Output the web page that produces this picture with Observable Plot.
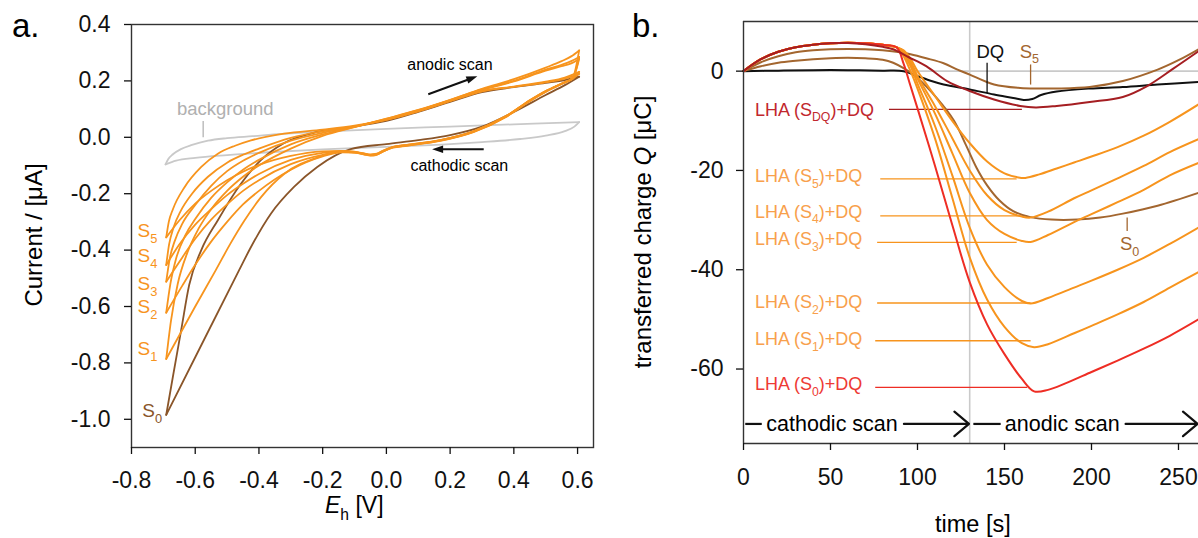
<!DOCTYPE html>
<html><head><meta charset="utf-8">
<script src="https://cdn.jsdelivr.net/npm/d3@7"></script>
<script src="https://cdn.jsdelivr.net/npm/@observablehq/plot@0.6"></script>
<style>
html,body{margin:0;padding:0;background:#fff;}
body{width:1198px;height:538px;overflow:hidden;position:relative;}
#a{position:absolute;left:0;top:0;width:600px;height:538px;}
#b{position:absolute;left:600px;top:0;width:598px;height:538px;}
svg{overflow:visible;}
</style></head><body>
<div id="a"></div><div id="b"></div>
<script>
const FONT = "'Liberation Sans', Arial, Helvetica, sans-serif";
const ORANGE = "#f7941d", BROWN_A = "#8a5529", BROWN_B = "#a3662f", GREY = "#c9c9c9";
const RED = "#ee2d24", DARKRED = "#a51e22", LABEL_ORANGE = "#f8a04c";

// ---------- Panel a: cyclic voltammograms (E [V], I [uA]) ----------
const xTicksA = [-0.8,-0.6,-0.4,-0.2,0,0.2,0.4,0.6];
const yTicksA = [0.4,0.2,0,-0.2,-0.4,-0.6,-0.8,-1.0];

const bgAnodic = [[-0.693,-0.096],[-0.685,-0.078],[-0.67,-0.06],[-0.645,-0.042],[-0.61,-0.027],[-0.56,-0.012],[-0.5,-0.003],[-0.42,0.004],[-0.33,0.012],[-0.2,0.02],[0,0.03],[0.2,0.038],[0.4,0.046],[0.605,0.054]];
const bgCathodic = [[-0.693,-0.096],[-0.66,-0.083],[-0.6,-0.073],[-0.5,-0.063],[-0.37,-0.053],[-0.2,-0.043],[0,-0.034],[0.2,-0.024],[0.3,-0.017],[0.42,-0.006],[0.5,0.006],[0.56,0.022],[0.59,0.038],[0.605,0.054]];

const s0Anodic = [[-0.691,-0.984],[-0.669,-0.842],[-0.644,-0.683],[-0.619,-0.524],[-0.581,-0.4],[-0.529,-0.294],[-0.456,-0.164],[-0.394,-0.081],[-0.322,-0.021],[-0.217,0.019],[-0.113,0.036],[0,0.058],[0.1,0.09],[0.2,0.126],[0.3,0.16],[0.4,0.178],[0.5,0.193],[0.56,0.203],[0.605,0.215]];
const s0Cathodic = [[-0.691,-0.984],[-0.6,-0.78],[-0.463,-0.473],[-0.425,-0.389],[-0.362,-0.27],[-0.29,-0.176],[-0.217,-0.105],[-0.112,-0.042],[0,-0.024],[0.1,-0.01],[0.2,0.008],[0.3,0.038],[0.4,0.09],[0.5,0.15],[0.56,0.185],[0.605,0.215]];

const s1Anodic = [[-0.691,-0.786],[-0.676,-0.65],[-0.655,-0.52],[-0.625,-0.41],[-0.59,-0.325],[-0.55,-0.255],[-0.5,-0.19],[-0.45,-0.14],[-0.4,-0.1],[-0.3,-0.04],[-0.2,0.005],[-0.1,0.036],[0,0.066],[0.1,0.097],[0.2,0.133],[0.3,0.172],[0.4,0.206],[0.5,0.247],[0.55,0.27],[0.58,0.287],[0.605,0.308]];
const s1Cathodic = [[-0.691,-0.786],[-0.6,-0.6],[-0.535,-0.47],[-0.49,-0.378],[-0.446,-0.296],[-0.394,-0.213],[-0.321,-0.13],[-0.217,-0.072],[-0.14,-0.052],[-0.1,-0.054],[-0.07,-0.061],[-0.05,-0.065],[-0.03,-0.062],[-0.01,-0.05],[0.02,-0.037],[0.065,-0.03],[0.169,-0.013],[0.273,0.018],[0.377,0.073],[0.45,0.128],[0.5,0.161],[0.55,0.189],[0.585,0.212],[0.605,0.308]];

const s2Anodic = [[-0.691,-0.622],[-0.678,-0.52],[-0.66,-0.43],[-0.63,-0.345],[-0.6,-0.29],[-0.55,-0.215],[-0.5,-0.16],[-0.45,-0.115],[-0.4,-0.08],[-0.3,-0.025],[-0.2,0.01],[-0.1,0.037],[0,0.065],[0.1,0.096],[0.2,0.132],[0.3,0.17],[0.4,0.2],[0.5,0.24],[0.55,0.257],[0.58,0.27],[0.605,0.285]];
const s2Cathodic = [[-0.691,-0.622],[-0.64,-0.525],[-0.6,-0.452],[-0.55,-0.37],[-0.5,-0.3],[-0.45,-0.238],[-0.4,-0.19],[-0.3,-0.115],[-0.2,-0.068],[-0.14,-0.053],[-0.1,-0.054],[-0.07,-0.06],[-0.05,-0.064],[-0.03,-0.061],[-0.01,-0.05],[0.02,-0.036],[0.065,-0.029],[0.169,-0.012],[0.273,0.019],[0.377,0.074],[0.45,0.129],[0.5,0.162],[0.55,0.19],[0.585,0.21],[0.605,0.285]];

const s3Anodic = [[-0.691,-0.512],[-0.68,-0.43],[-0.665,-0.37],[-0.64,-0.305],[-0.6,-0.24],[-0.55,-0.172],[-0.5,-0.12],[-0.45,-0.083],[-0.4,-0.055],[-0.3,-0.012],[-0.2,0.016],[-0.1,0.038],[0,0.064],[0.1,0.095],[0.2,0.131],[0.3,0.168],[0.4,0.198],[0.5,0.236],[0.55,0.252],[0.58,0.262],[0.605,0.278]];
const s3Cathodic = [[-0.691,-0.512],[-0.64,-0.425],[-0.6,-0.36],[-0.55,-0.292],[-0.5,-0.238],[-0.45,-0.19],[-0.4,-0.152],[-0.3,-0.095],[-0.2,-0.062],[-0.14,-0.051],[-0.1,-0.053],[-0.07,-0.059],[-0.05,-0.063],[-0.03,-0.06],[-0.01,-0.049],[0.02,-0.035],[0.065,-0.028],[0.169,-0.011],[0.273,0.02],[0.377,0.075],[0.45,0.13],[0.5,0.163],[0.55,0.19],[0.585,0.209],[0.605,0.278]];

const s4Anodic = [[-0.691,-0.453],[-0.682,-0.38],[-0.668,-0.32],[-0.645,-0.26],[-0.61,-0.2],[-0.56,-0.14],[-0.5,-0.09],[-0.45,-0.062],[-0.4,-0.04],[-0.3,-0.002],[-0.2,0.022],[-0.1,0.039],[0,0.062],[0.1,0.092],[0.2,0.129],[0.3,0.164],[0.4,0.18],[0.5,0.197],[0.56,0.212],[0.605,0.232]];
const s4Cathodic = [[-0.691,-0.453],[-0.65,-0.38],[-0.6,-0.31],[-0.55,-0.255],[-0.5,-0.205],[-0.45,-0.165],[-0.4,-0.13],[-0.3,-0.08],[-0.2,-0.055],[-0.14,-0.049],[-0.1,-0.052],[-0.07,-0.058],[-0.05,-0.062],[-0.03,-0.059],[-0.01,-0.048],[0.02,-0.035],[0.065,-0.027],[0.169,-0.01],[0.273,0.021],[0.377,0.076],[0.45,0.131],[0.5,0.164],[0.55,0.191],[0.585,0.21],[0.605,0.232]];

const s5Anodic = [[-0.691,-0.355],[-0.683,-0.3],[-0.67,-0.255],[-0.633,-0.176],[-0.581,-0.105],[-0.529,-0.058],[-0.475,-0.03],[-0.425,-0.011],[-0.321,0.013],[-0.2,0.027],[-0.1,0.041],[0,0.063],[0.1,0.093],[0.2,0.128],[0.3,0.163],[0.4,0.179],[0.5,0.195],[0.56,0.208],[0.605,0.225]];
const s5Cathodic = [[-0.691,-0.355],[-0.65,-0.295],[-0.6,-0.235],[-0.55,-0.19],[-0.5,-0.152],[-0.45,-0.122],[-0.4,-0.098],[-0.3,-0.066],[-0.2,-0.05],[-0.14,-0.048],[-0.1,-0.051],[-0.07,-0.057],[-0.05,-0.061],[-0.03,-0.058],[-0.01,-0.047],[0.02,-0.034],[0.065,-0.027],[0.169,-0.01],[0.273,0.021],[0.377,0.076],[0.45,0.131],[0.5,0.164],[0.55,0.19],[0.585,0.208],[0.605,0.225]];

const cvSeries = [
  {pts: bgAnodic, color: GREY}, {pts: bgCathodic, color: GREY},
  {pts: s0Anodic, color: BROWN_A}, {pts: s0Cathodic, color: BROWN_A},
  {pts: s5Anodic, color: ORANGE}, {pts: s5Cathodic, color: ORANGE},
  {pts: s4Anodic, color: ORANGE}, {pts: s4Cathodic, color: ORANGE},
  {pts: s3Anodic, color: ORANGE}, {pts: s3Cathodic, color: ORANGE},
  {pts: s2Anodic, color: ORANGE}, {pts: s2Cathodic, color: ORANGE},
  {pts: s1Anodic, color: ORANGE}, {pts: s1Cathodic, color: ORANGE}
];

// S labels of panel a: [subscript, E (right edge), I (baseline), colour]
const sLabelsA = [["5",-0.717,-0.356,ORANGE],["4",-0.717,-0.444,ORANGE],["3",-0.717,-0.544,ORANGE],["2",-0.717,-0.625,ORANGE],["1",-0.717,-0.774,ORANGE],["0",-0.702,-0.994,BROWN_A]];

// ---------- Panel b: transferred charge (t [s], Q [uC]) ----------
const xTicksB = [0,50,100,150,200,250];
const yTicksB = [0,-20,-40,-60];

const qDQ = [[0,0],[20,0.1],[40,0.2],[60,0.2],[80,0.1],[92,0],[100,-1],[108,-2],[115,-2.7],[130,-3.7],[144,-4.7],[155,-5.4],[161,-5.8],[166,-5.6],[171,-4.8],[180,-4.1],[199,-3.5],[218,-3.2],[238,-2.7],[261.5,-2.2]];
const qS5brown = [[0,0],[10,1.8],[20,3.0],[30,3.8],[40,4.2],[50,4.4],[60,4.45],[70,4.4],[80,4.2],[90,3.8],[96,3.4],[105,2.6],[115,1.6],[123,0.3],[130,-0.7],[144,-2.7],[159,-3.4],[170,-3.5],[180,-3.5],[199,-3.2],[218,-2],[238,0.3],[250,2.2],[261.5,4.4]];
const qS0brown = [[0,0],[10,1.0],[20,1.7],[30,2.1],[40,2.4],[50,2.6],[60,2.7],[70,2.6],[80,2.3],[86,1.7],[93,0.4],[100,-1.4],[111,-5.4],[121,-10],[128,-15],[134,-19.5],[140,-23],[147,-26],[155,-28.2],[165,-29.4],[177,-29.9],[192,-29.9],[205,-29.5],[218,-28.7],[238,-27.1],[261.5,-24.5]];
const qSDQ = [[0,0],[10,2.4],[20,3.9],[30,4.8],[40,5.3],[50,5.6],[60,5.65],[70,5.4],[80,4.9],[86,4.4],[95,2.8],[105,1.0],[117,-2],[130,-4],[144,-5.7],[159,-7],[168,-7.3],[180,-7],[199,-6.2],[218,-5.2],[232,-3],[247,0.5],[261.5,4]];
const qS0 = [[0,0],[10,2.4],[20,3.9],[30,4.8],[40,5.3],[50,5.6],[60,5.7],[70,5.6],[80,5.3],[88,4.8],[92,1.5],[96,-3],[100,-7.5],[110,-19],[120,-31],[130,-42.5],[140,-51],[150,-57],[160,-62],[167,-64.5],[175,-64.2],[185,-62.9],[200,-60.6],[215,-58.3],[230,-55.9],[245,-53.3],[261.5,-50]];
const qS1 = [[0,0],[10,2.4],[20,3.9],[30,4.8],[40,5.3],[50,5.6],[60,5.7],[70,5.6],[80,5.3],[88,4.8],[92,3],[96,0],[100,-3.5],[110,-13.5],[120,-25.5],[130,-37.5],[140,-46],[150,-51.5],[160,-54.8],[167,-55.6],[175,-55],[190,-52.8],[200,-51.3],[215,-49],[230,-46.5],[245,-43.6],[261.5,-40.5]];
const qS2 = [[0,0],[10,2.4],[20,3.9],[30,4.8],[40,5.3],[50,5.6],[60,5.7],[70,5.6],[80,5.3],[88,4.8],[92,3.5],[96,1],[100,-2.5],[110,-11],[120,-21],[130,-31.5],[140,-39],[150,-43.5],[160,-46.3],[165,-46.8],[175,-45.7],[190,-43.6],[200,-42.2],[215,-40],[230,-37.6],[245,-34.8],[261.5,-31.5]];
const qS3 = [[0,0],[10,2.4],[20,3.9],[30,4.8],[40,5.3],[50,5.6],[60,5.7],[70,5.6],[80,5.3],[88,4.8],[92,4],[96,1.5],[100,-1.5],[110,-8.5],[120,-16.5],[130,-24.5],[140,-30],[150,-32.8],[160,-34.2],[165,-34.4],[175,-33],[190,-30.4],[200,-28.8],[215,-26.4],[230,-23.9],[245,-21],[261.5,-18.5]];
const qS4 = [[0,0],[10,2.4],[20,3.9],[30,4.8],[40,5.3],[50,5.6],[60,5.7],[70,5.6],[80,5.3],[88,4.8],[92,4],[96,2],[100,-1],[110,-7],[120,-13.5],[130,-20],[140,-25],[150,-28],[160,-29.3],[165,-29.5],[175,-28.3],[190,-25.6],[200,-24],[215,-21.6],[230,-19.1],[245,-16.3],[261.5,-13.7]];
const qS5 = [[0,0],[10,2.4],[20,3.9],[30,4.8],[40,5.3],[50,5.6],[60,5.7],[70,5.6],[80,5.3],[88,4.8],[92,4.2],[96,2.5],[100,0],[110,-5],[120,-10],[130,-14.5],[140,-18.2],[150,-20.6],[158,-21.4],[162,-21.5],[170,-20.8],[180,-19.6],[190,-18.4],[200,-17.2],[215,-15.3],[230,-13],[245,-10.2],[261.5,-6.7]];

// left labels of panel b: subscript, text baseline Q, leader Q, leader t1, t2, text colour, line colour
const labelsB = [
  {sub:"DQ", qt:-9.05, q:-7.7,  t1:83.6, t2:160, fill:"#c1272d", line:DARKRED},
  {sub:"5",  qt:-22.45,q:-21.7, t1:78.6, t2:157, fill:LABEL_ORANGE, line:ORANGE},
  {sub:"4",  qt:-29.6, q:-29.15,t1:78.6, t2:163, fill:LABEL_ORANGE, line:ORANGE},
  {sub:"3",  qt:-35.2, q:-34.5, t1:76.8, t2:157, fill:LABEL_ORANGE, line:ORANGE},
  {sub:"2",  qt:-47.9, q:-46.7, t1:76.8, t2:165, fill:LABEL_ORANGE, line:ORANGE},
  {sub:"1",  qt:-55.3, q:-54.3, t1:75.7, t2:165, fill:LABEL_ORANGE, line:ORANGE},
  {sub:"0",  qt:-64.4, q:-63.7, t1:75.7, t2:163, fill:"#ee3a34", line:RED}
];

function richText(sel, x, y, parts, o = {}) {
  const size = o.size || 18;
  const t = sel.append("text").attr("x", x).attr("y", y).attr("font-size", size)
    .attr("fill", o.fill || "#000").attr("text-anchor", o.anchor || "start")
    .attr("font-family", FONT).attr("stroke", "none");
  if (o.rotate) t.attr("transform", `rotate(${o.rotate},${x},${y})`);
  let shifted = 0;
  for (const p of parts) {
    const s = t.append("tspan").text(p.t);
    const target = p.sub ? size * 0.3 : 0;
    if (target !== shifted) { s.attr("dy", target - shifted); shifted = target; }
    if (p.sub) s.attr("font-size", size * 0.68);
    if (p.i) s.attr("font-style", "italic");
  }
  return t;
}

const lineMarksA = cvSeries.map(s => Plot.line(s.pts, {x: d => d[0], y: d => d[1], stroke: s.color, strokeWidth: 1.8, curve: "monotone-x"}));

const plotA = Plot.plot({
  width: 600, height: 538,
  marginLeft: 131, marginRight: 7, marginTop: 24, marginBottom: 91,
  x: {domain: [-0.8, 0.65]},
  y: {domain: [-1.1, 0.4]},
  style: {fontFamily: FONT, fontSize: "23px", color: "#111", background: "transparent", overflow: "visible"},
  marks: [
    Plot.link([{e: -0.575, i1: 0.058, i2: 0.0}], {x1: "e", x2: "e", y1: "i1", y2: "i2", stroke: "#bdbdbd", strokeWidth: 1.5}),
    ...lineMarksA,
    Plot.frame({stroke: "#333", strokeWidth: 1.4}),
    Plot.axisX({ticks: xTicksA, tickFormat: d => d.toFixed(1), tickSize: 7, tickPadding: 17, fontSize: 23, label: null, strokeWidth: 1.3}),
    Plot.axisY({ticks: yTicksA, tickFormat: d => d.toFixed(1), tickSize: 7, tickPadding: 14, fontSize: 23, label: null, strokeWidth: 1.3})
  ]
});
document.getElementById("a").appendChild(plotA);

{
  const svg = d3.select(plotA);
  const sx = plotA.scale("x"), sy = plotA.scale("y");
  const X = v => sx.apply(v), Y = v => sy.apply(v);
  richText(svg, 12, 37, [{t: "a."}], {size: 33});
  richText(svg, 42, 235, [{t: "Current / [μA]"}], {size: 24, anchor: "middle", rotate: -90});
  richText(svg, 325, 513, [{t: "E", i: true}, {t: "h", sub: true}, {t: " [V]"}], {size: 23});
  richText(svg, X(-0.656), Y(0.077), [{t: "background"}], {size: 18.5, fill: "#b0b0b0"});
  richText(svg, X(0.067), Y(0.237), [{t: "anodic scan"}], {size: 16});
  richText(svg, X(0.077), Y(-0.122), [{t: "cathodic scan"}], {size: 16});
  for (const [sub, e, i, c] of sLabelsA) {
    richText(svg, X(e), Y(i), [{t: "S"}, {t: sub, sub: true}], {size: 19, fill: c, anchor: "end"});
  }
  // arrows with filled heads
  const arrowsA = [[0.133, 0.151, 0.287, 0.215], [0.307, -0.044, 0.145, -0.044]];
  for (const [e1, i1, e2, i2] of arrowsA) {
    const x1 = X(e1), y1 = Y(i1), x2 = X(e2), y2 = Y(i2);
    const len = Math.hypot(x2 - x1, y2 - y1), ux = (x2 - x1) / len, uy = (y2 - y1) / len;
    const L = 11, W = 3.8;
    svg.append("line").attr("x1", x1).attr("y1", y1).attr("x2", x2 - ux * L * 0.8).attr("y2", y2 - uy * L * 0.8)
      .attr("stroke", "#111").attr("stroke-width", 2);
    svg.append("path").attr("d", `M${x2},${y2}L${x2 - ux * L - uy * W},${y2 - uy * L + ux * W}L${x2 - ux * L + uy * W},${y2 - uy * L - ux * W}Z`).attr("fill", "#111");
  }
}

// ---------- Panel b plot ----------
const seriesB = [
  {pts: qDQ, color: "#111"},
  {pts: qS0brown, color: BROWN_B},
  {pts: qS5brown, color: BROWN_B},
  {pts: qS1, color: ORANGE}, {pts: qS2, color: ORANGE}, {pts: qS3, color: ORANGE},
  {pts: qS4, color: ORANGE}, {pts: qS5, color: ORANGE},
  {pts: qS0, color: RED},
  {pts: qSDQ, color: DARKRED}
];

const plotB = Plot.plot({
  width: 598, height: 538,
  marginLeft: 143, marginRight: 0, marginTop: 21, marginBottom: 95,
  x: {domain: [0, 261.5]},
  y: {domain: [-75, 10]},
  style: {fontFamily: FONT, fontSize: "23px", color: "#111", background: "transparent", overflow: "visible"},
  marks: [
    Plot.ruleX([130], {stroke: "#cacaca", strokeWidth: 1.6}),
    Plot.ruleY([0], {stroke: "#cacaca", strokeWidth: 1.6}),
    ...labelsB.map(l => Plot.link([l], {x1: "t1", x2: "t2", y1: "q", y2: "q", stroke: l.line, strokeWidth: 1.3})),
    ...seriesB.map(s => Plot.line(s.pts, {x: d => d[0], y: d => d[1], stroke: s.color, strokeWidth: 2, curve: "catmull-rom"})),
    Plot.link([{t: 140, a: 1.7, b: -4.4}], {x1: "t", x2: "t", y1: "a", y2: "b", stroke: "#111", strokeWidth: 1.3}),
    Plot.link([{t: 165, a: 1.35, b: -2.7}, {t: 220.5, a: -29.5, b: -32.2}], {x1: "t", x2: "t", y1: "a", y2: "b", stroke: BROWN_B, strokeWidth: 1.3}),
    Plot.link([{a: 1, b: 10.5, q: -71.06}, {a: 132.1, b: 147.8, q: -71.06}], {x1: "a", x2: "b", y1: "q", y2: "q", stroke: "#111", strokeWidth: 2.2}),
    Plot.arrow([{a: 92.2, b: 129.6, q: -71.06}, {a: 219.6, b: 261, q: -71.06}], {x1: "a", x2: "b", y1: "q", y2: "q", stroke: "#111", strokeWidth: 2.2, headLength: 13, headAngle: 80}),
    Plot.ruleY([10], {stroke: "#333", strokeWidth: 1.4}),
    Plot.ruleY([-75], {stroke: "#333", strokeWidth: 1.4}),
    Plot.ruleX([0], {stroke: "#333", strokeWidth: 1.4}),
    Plot.axisX({ticks: xTicksB, tickFormat: d => String(d), tickSize: 7, tickPadding: 18, fontSize: 23, label: null, strokeWidth: 1.3}),
    Plot.axisY({ticks: yTicksB, tickFormat: d => String(d), tickSize: 7, tickPadding: 13, fontSize: 23, label: null, strokeWidth: 1.3})
  ]
});
document.getElementById("b").appendChild(plotB);

{
  const svg = d3.select(plotB);
  const sx = plotB.scale("x"), sy = plotB.scale("y");
  const X = v => sx.apply(v), Y = v => sy.apply(v);
  richText(svg, 32, 37, [{t: "b."}], {size: 33});
  richText(svg, 51, 232, [{t: "transferred charge "}, {t: "Q", i: true}, {t: " [μC]"}], {size: 24, anchor: "middle", rotate: -90});
  richText(svg, 335, 532, [{t: "time [s]"}], {size: 23.5});
  for (const l of labelsB) {
    richText(svg, X(6.9), Y(l.qt), [{t: "LHA (S"}, {t: l.sub, sub: true}, {t: ")+DQ"}], {size: 18, fill: l.fill});
  }
  richText(svg, X(134.2), Y(2.6), [{t: "DQ"}], {size: 18.5, fill: "#111"});
  richText(svg, X(159), Y(2.6), [{t: "S"}, {t: "5", sub: true}], {size: 18.5, fill: BROWN_B});
  richText(svg, X(216.6), Y(-36.2), [{t: "S"}, {t: "0", sub: true}], {size: 18.5, fill: BROWN_B});
  richText(svg, X(13.4), Y(-72.5), [{t: "cathodic scan"}], {size: 21.5});
  richText(svg, X(150.5), Y(-72.5), [{t: "anodic scan"}], {size: 21.5});
}
</script>
</body></html>
